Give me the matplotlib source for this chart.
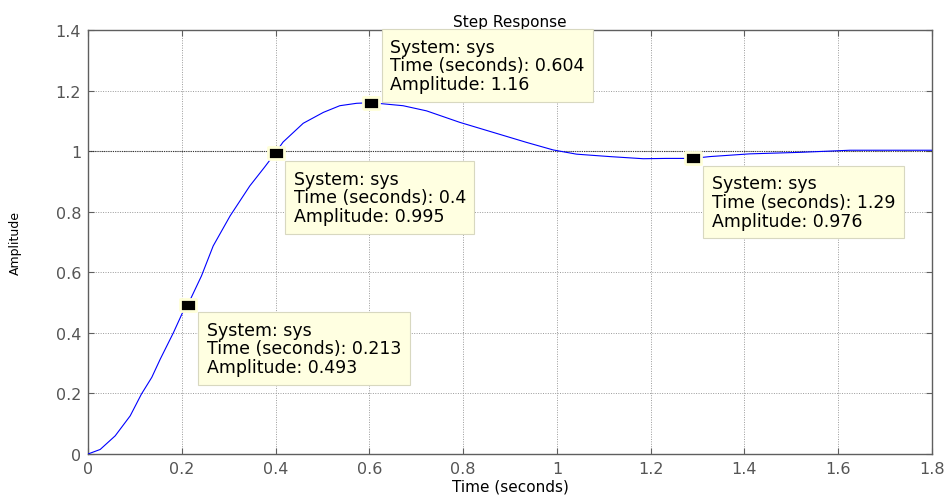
import matplotlib
matplotlib.use("Agg")
import matplotlib.pyplot as plt
from matplotlib.ticker import FuncFormatter

# step response
t = [0, 0.026, 0.058, 0.09, 0.114, 0.136, 0.154, 0.182, 0.202, 0.213, 0.242,
     0.267, 0.303, 0.345, 0.377, 0.4, 0.416, 0.459, 0.502, 0.537, 0.573, 0.604,
     0.672, 0.722, 0.793, 0.864, 0.935, 0.992, 1.042, 1.113, 1.184, 1.234, 1.29,
     1.326, 1.411, 1.518, 1.625, 1.8]
amp = [0, 0.015, 0.06, 0.126, 0.198, 0.253, 0.313, 0.40, 0.468, 0.493, 0.588,
       0.687, 0.786, 0.885, 0.948, 0.995, 1.03, 1.092, 1.128, 1.150, 1.158, 1.16,
       1.15, 1.133, 1.095, 1.062, 1.029, 1.004, 0.99, 0.982, 0.975, 0.976, 0.976,
       0.982, 0.991, 0.996, 1.003, 1.003]

# data tips
tip_t = [0.213, 0.4, 0.604, 1.29]
tip_amp = [0.493, 0.995, 1.16, 0.976]
tip_time_txt = ["0.213", "0.4", "0.604", "1.29"]
tip_amp_txt = ["0.493", "0.995", "1.16", "0.976"]
tip_offsets = [(19, -16), (18, -17), (19, 65), (19, -16)]  # pixels from marker to text corner

x_ticks = [0, 0.2, 0.4, 0.6, 0.8, 1, 1.2, 1.4, 1.6, 1.8]
y_ticks = [0, 0.2, 0.4, 0.6, 0.8, 1, 1.2, 1.4]

fig = plt.figure(figsize=(9.46, 5.02), dpi=100)
ax = fig.add_axes([88 / 946, 47 / 502, 844 / 946, 424 / 502])

gray = "#5f5f5f"
ax.plot(t, amp, color="#0000ff", lw=0.8, zorder=3)
# steady-state line
ax.axhline(1.0, color="#333333", lw=0.8, ls=(0, (1, 1)), zorder=2)

ax.set_xlim(0, 1.8)
ax.set_ylim(0, 1.4)
ax.set_xticks(x_ticks)
ax.set_yticks(y_ticks)
fmt = FuncFormatter(lambda v, p: "%g" % round(v, 2))
ax.xaxis.set_major_formatter(fmt)
ax.yaxis.set_major_formatter(fmt)
ax.grid(True, color="#9a9a9a", ls=(0, (1, 1.5)), lw=0.7)
ax.set_axisbelow(True)
ax.tick_params(direction="in", length=4, width=0.8, color=gray, labelcolor="#555555",
               labelsize=11.5, top=True, right=True, pad=5)
for s in ax.spines.values():
    s.set_color(gray)
    s.set_linewidth(1.0)

ax.set_title("Step Response", fontsize=11, pad=3)
ax.set_xlabel("Time (seconds)", fontsize=11, labelpad=2)
ax.set_ylabel("Amplitude", fontsize=9, labelpad=24)

# rectangular marker shape
rect = [(-1.35, -1), (1.35, -1), (1.35, 1), (-1.35, 1), (-1.35, -1)]
ax.plot(tip_t, tip_amp, ls="none", marker=rect, markersize=12,
        markerfacecolor="black", markeredgecolor="#ffffd8", markeredgewidth=2,
        zorder=6, clip_on=False)

for x, y, tt, at, off in zip(tip_t, tip_amp, tip_time_txt, tip_amp_txt, tip_offsets):
    label = "System: sys\nTime (seconds): %s\nAmplitude: %s" % (tt, at)
    ax.annotate(label, xy=(x, y), xytext=off, textcoords="offset pixels",
                ha="left", va="top", fontsize=12.5, linespacing=1.05,
                color="black", zorder=7,
                bbox=dict(boxstyle="square,pad=0.5", facecolor="#ffffe1",
                          edgecolor="#d8d8c0", linewidth=0.8))

fig.savefig("out.png", dpi=100)
